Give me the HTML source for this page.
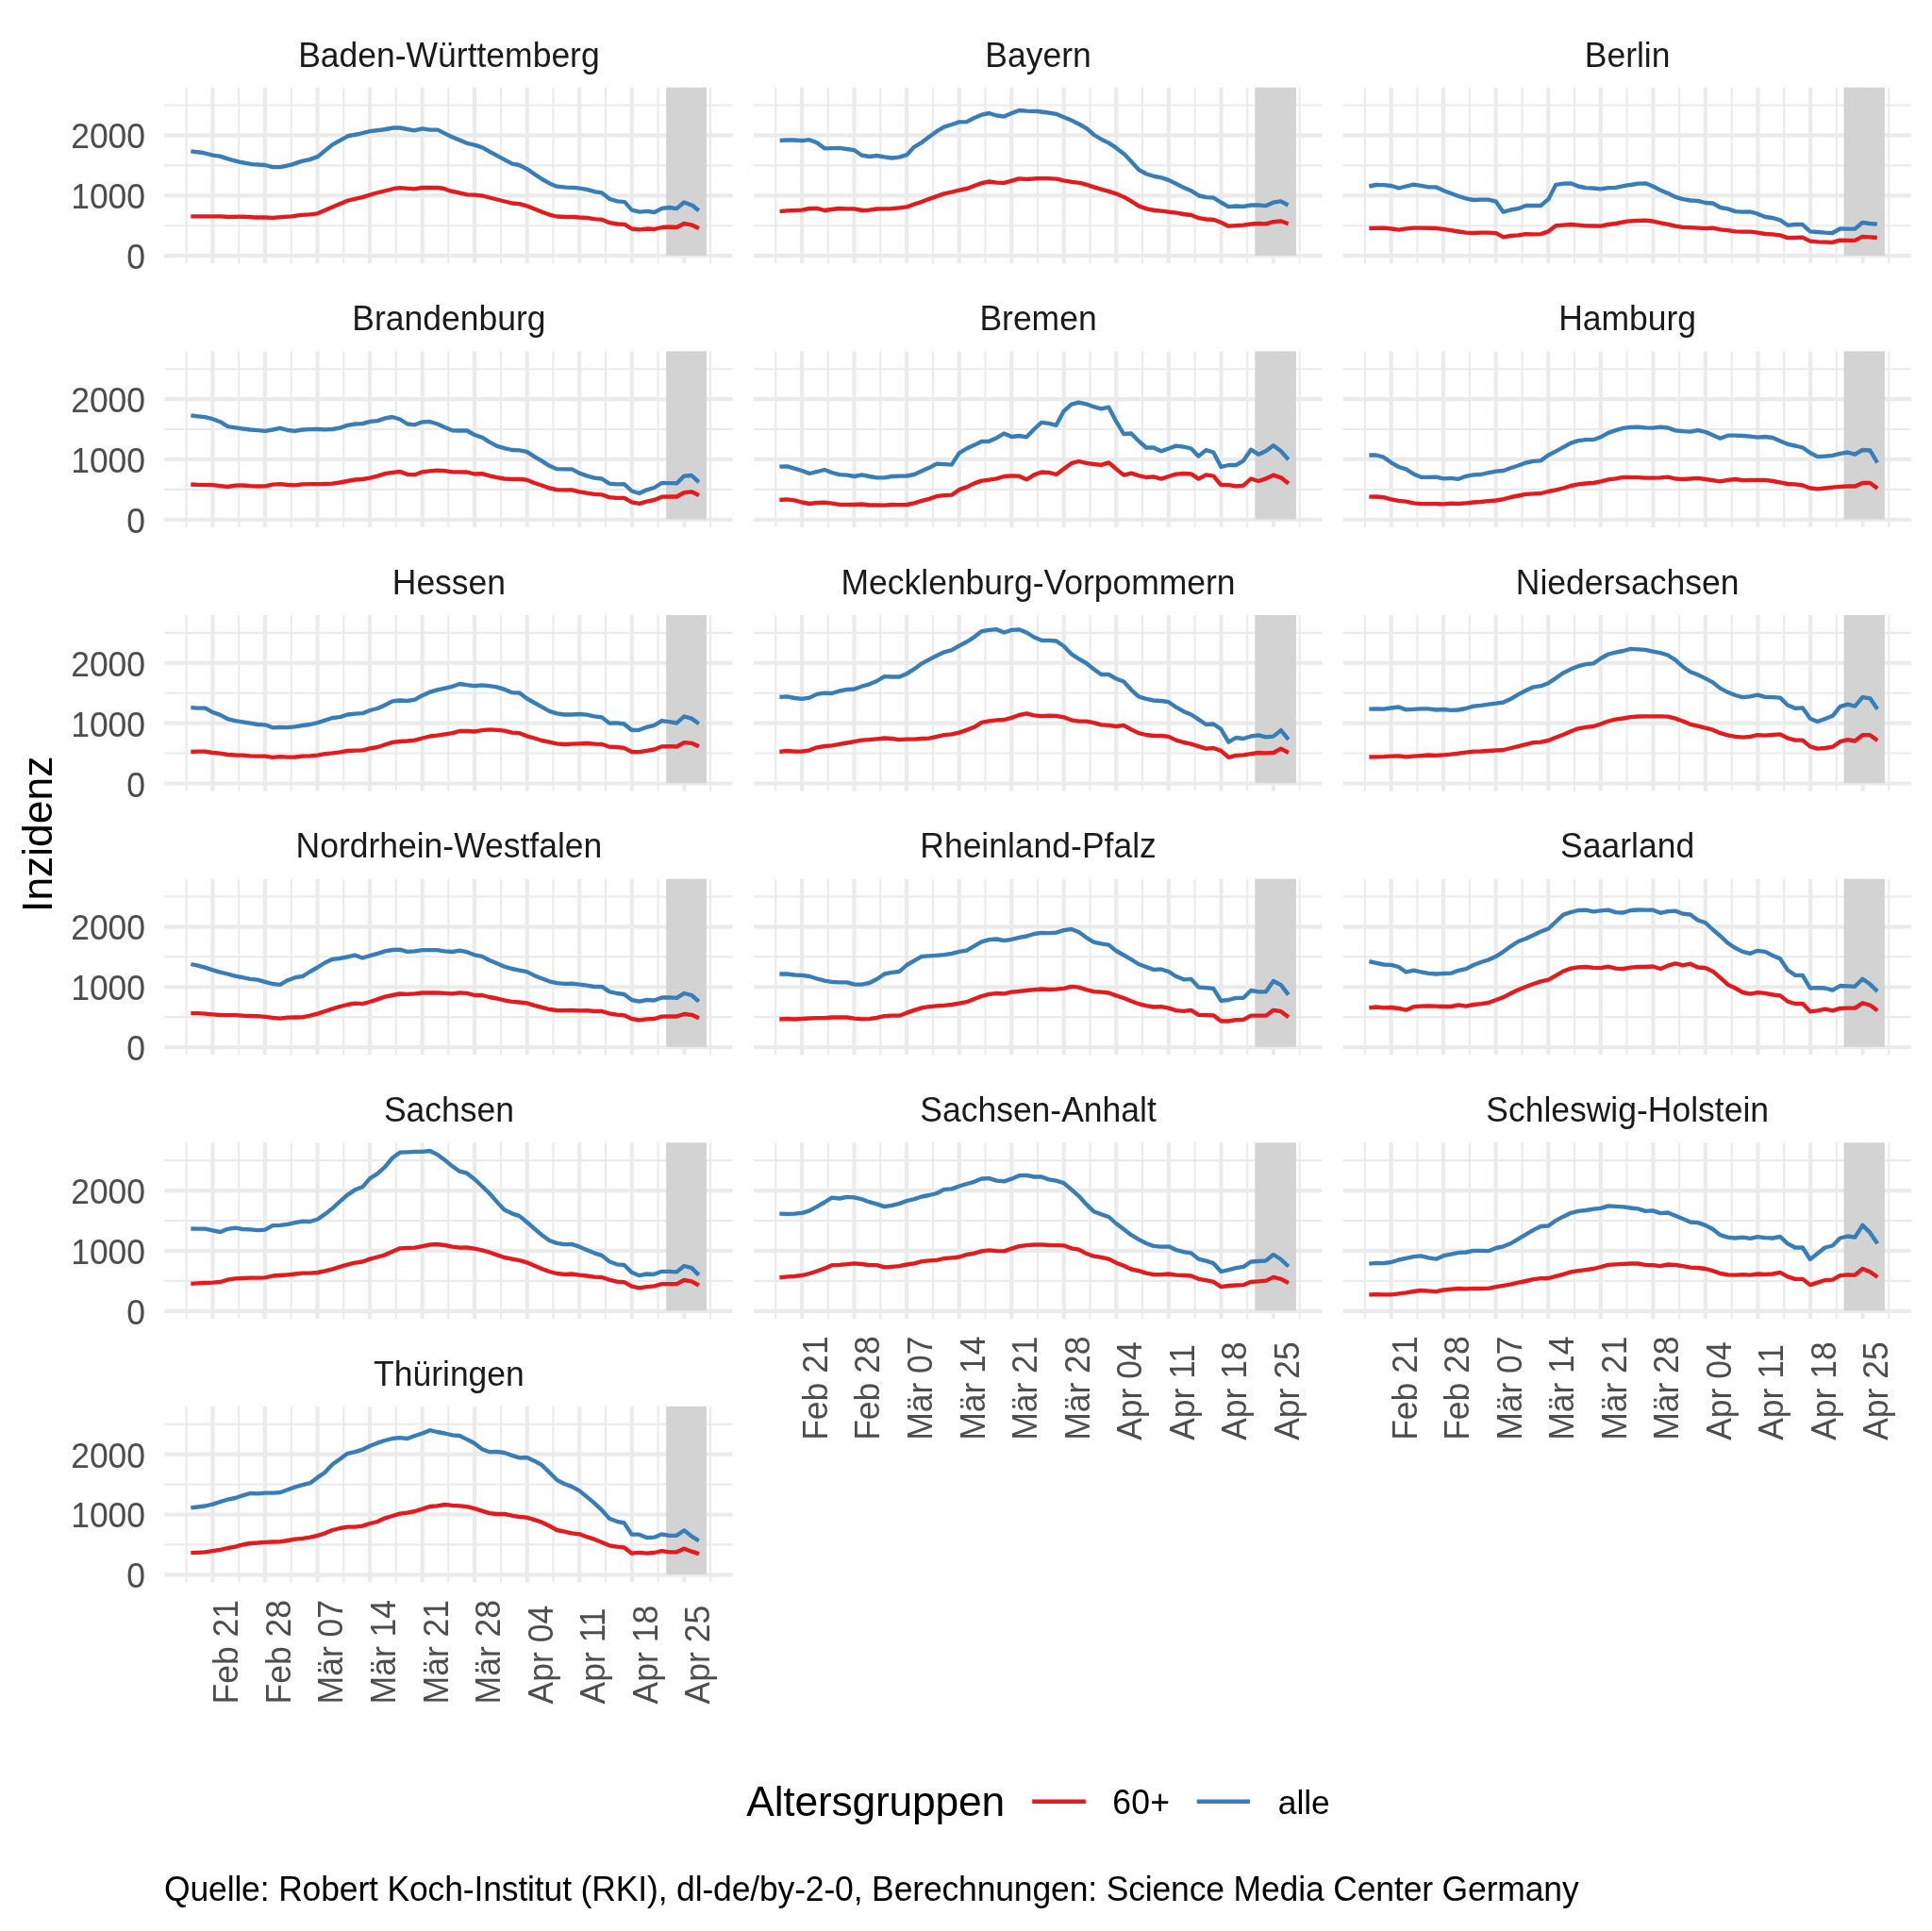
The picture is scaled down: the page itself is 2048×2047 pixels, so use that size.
<!DOCTYPE html>
<html><head><meta charset="utf-8"><title>Inzidenz</title>
<style>html,body{margin:0;padding:0;background:#fff}svg{display:block;will-change:transform}</style></head>
<body>
<svg width="2048" height="2047" viewBox="0 0 2048 2047" font-family="Liberation Sans, sans-serif">
<rect width="2048" height="2047" fill="#fff"/>
<defs><g id="pg"><path d="M0 146.51H602.25" stroke="#EBEBEB" stroke-width="2.1"/><path d="M0 82.64H602.25" stroke="#EBEBEB" stroke-width="2.1"/><path d="M0 18.78H602.25" stroke="#EBEBEB" stroke-width="2.1"/><path d="M23.23 0V186.6" stroke="#EBEBEB" stroke-width="2.1"/><path d="M78.78 0V186.6" stroke="#EBEBEB" stroke-width="2.1"/><path d="M134.32 0V186.6" stroke="#EBEBEB" stroke-width="2.1"/><path d="M189.88 0V186.6" stroke="#EBEBEB" stroke-width="2.1"/><path d="M245.42 0V186.6" stroke="#EBEBEB" stroke-width="2.1"/><path d="M300.98 0V186.6" stroke="#EBEBEB" stroke-width="2.1"/><path d="M356.52 0V186.6" stroke="#EBEBEB" stroke-width="2.1"/><path d="M412.07 0V186.6" stroke="#EBEBEB" stroke-width="2.1"/><path d="M467.62 0V186.6" stroke="#EBEBEB" stroke-width="2.1"/><path d="M523.17 0V186.6" stroke="#EBEBEB" stroke-width="2.1"/><path d="M578.73 0V186.6" stroke="#EBEBEB" stroke-width="2.1"/><path d="M0 178.45H602.25" stroke="#EBEBEB" stroke-width="4.2"/><path d="M0 114.58H602.25" stroke="#EBEBEB" stroke-width="4.2"/><path d="M0 50.71H602.25" stroke="#EBEBEB" stroke-width="4.2"/><path d="M51 0V186.6" stroke="#EBEBEB" stroke-width="4.2"/><path d="M106.55 0V186.6" stroke="#EBEBEB" stroke-width="4.2"/><path d="M162.1 0V186.6" stroke="#EBEBEB" stroke-width="4.2"/><path d="M217.65 0V186.6" stroke="#EBEBEB" stroke-width="4.2"/><path d="M273.2 0V186.6" stroke="#EBEBEB" stroke-width="4.2"/><path d="M328.75 0V186.6" stroke="#EBEBEB" stroke-width="4.2"/><path d="M384.3 0V186.6" stroke="#EBEBEB" stroke-width="4.2"/><path d="M439.85 0V186.6" stroke="#EBEBEB" stroke-width="4.2"/><path d="M495.4 0V186.6" stroke="#EBEBEB" stroke-width="4.2"/><path d="M550.95 0V186.6" stroke="#EBEBEB" stroke-width="4.2"/></g>
<g id="xl" font-size="35.5" fill="#4D4D4D"><text transform="translate(77.9 128.9) rotate(-90) scale(1 1.03)">Feb 21</text><text transform="translate(133.45 128.9) rotate(-90) scale(1 1.03)">Feb 28</text><text transform="translate(189 128.9) rotate(-90) scale(1 1.03)">Mär 07</text><text transform="translate(244.55 128.9) rotate(-90) scale(1 1.03)">Mär 14</text><text transform="translate(300.1 128.9) rotate(-90) scale(1 1.03)">Mär 21</text><text transform="translate(355.65 128.9) rotate(-90) scale(1 1.03)">Mär 28</text><text transform="translate(411.2 128.9) rotate(-90) scale(1 1.03)">Apr 04</text><text transform="translate(466.75 128.9) rotate(-90) scale(1 1.03)">Apr 11</text><text transform="translate(522.3 128.9) rotate(-90) scale(1 1.03)">Apr 18</text><text transform="translate(577.85 128.9) rotate(-90) scale(1 1.03)">Apr 25</text></g>
<g id="yl" font-size="35.5" fill="#4D4D4D"><text transform="translate(-20.3 192.45) scale(1 1.045)" text-anchor="end">0</text><text transform="translate(-20.3 128.58) scale(1 1.045)" text-anchor="end">1000</text><text transform="translate(-20.3 64.71) scale(1 1.045)" text-anchor="end">2000</text></g>
</defs>
<g transform="translate(174.4 92.75)">
<use href="#pg"/>
<rect x="531.8" y="0" width="42.7" height="178.15" fill="#D3D3D3"/>
<text transform="translate(301.52 -22.25) scale(1 1.015)" font-size="35.5" fill="#1A1A1A" text-anchor="middle">Baden-Württemberg</text>
<use href="#yl"/>
</g>
<path d="M202.33 160.33L215.67 162L225.67 164.67L233.17 165.67L242.33 168.67L253.5 171.67L267.33 174.17L281.17 175L289 177.17L297.33 177.17L308.83 174.67L319.83 170.83L328.17 169.17L336.67 166.17L352.33 153.33L364.5 146.67L369 144.17L380.67 142L392.17 139.17L405.67 137.5L417.33 135.5L424 135.5L439 138.33L447.67 136.33L455.67 137.67L464 137.67L475.33 143.33L478.83 145L495.5 152L503 153.67L511.33 156.33L519.67 161.17L530.83 167.17L543 173.67L550.5 175L558.5 179.17L574.67 190L583 194.67L590.5 197.67L599.67 198.67L608 198.83L614.17 199.67L622.17 200.83L631.33 203.33L638 204.33L646.33 211L654.67 213.33L662.17 214.17L669.67 222.67L678 224.67L686.33 223.83L693.83 225L701.83 220.83L709.67 220L717.17 221.17L725.17 214.5L733.83 217.83L740.83 223.33" fill="none" stroke="#377EB8" stroke-width="4.35" stroke-linejoin="round" stroke-linecap="butt"/>
<path d="M202.33 229.33L234 229.33L242.33 230L257.33 229.67L270.67 230.5L281.17 230.5L289 230.83L308.83 229.33L319.83 227.83L328.17 227.33L336.67 226.33L352.33 219.5L369 212.5L384 209.17L397.33 205L417.33 200L424 199.17L439 200.33L447.67 199L464 199L470.67 200L477.33 202.5L478.83 202.67L495.5 206.33L503 206.67L511.33 207.5L530.83 212.5L543 215.5L550.5 216.17L558.5 218.33L574.67 224.67L583 227.83L590.5 229.5L599.67 230L608 230L614.17 230.5L622.17 230.83L631.33 232.33L638 232.67L646.33 236.17L654.67 237.5L662.17 237.83L669.67 242.5L678 243.33L686.33 242.5L693.83 242.83L701.83 241L709.67 240.5L717.17 241L725.17 237L733.83 238.67L740.83 242" fill="none" stroke="#E41A1C" stroke-width="4.35" stroke-linejoin="round" stroke-linecap="butt"/>
<g transform="translate(799 92.75)">
<use href="#pg"/>
<rect x="531.3" y="0" width="43.6" height="178.15" fill="#D3D3D3"/>
<text transform="translate(301.52 -22.25) scale(1 1.015)" font-size="35.5" fill="#1A1A1A" text-anchor="middle">Bayern</text>
</g>
<path d="M826.67 149L834 148.33L842.33 148.5L850.17 149.17L858.17 148.17L866 151.17L874 157.33L881.5 157.17L889.83 156.83L897.33 158L905.67 159.17L913.67 164.67L921.5 166L929.5 165L937.33 166.33L945.33 167.5L953.17 166.67L961.17 164.17L969 155.83L977.33 150.83L985 145L993 139.17L1000.67 134.67L1009 132L1016.67 129.33L1024.83 129.17L1032.67 125L1040.67 121.67L1048.5 120L1056.5 122.5L1064.33 123.5L1072.33 120L1080.33 117L1088.17 117.67L1100 118L1111.33 119.5L1119.67 120.83L1127.67 124.17L1136.33 127.83L1144.67 132L1152.17 136.33L1159.67 143L1168 148L1175.5 151.67L1183 156.67L1192.17 163.67L1199.67 171.67L1207.17 180L1215.5 184.5L1223.83 187L1231.33 188.33L1238.67 190.83L1247.17 195L1254.67 198.83L1262.67 202.17L1271 207.5L1278.83 209.17L1286.33 209.67L1294.17 214.5L1302.17 219.17L1310.5 218.5L1318 218.83L1326.33 217.5L1333.83 217.33L1341.67 218.17L1349.67 214.67L1357.67 213.33L1365.5 217.5" fill="none" stroke="#377EB8" stroke-width="4.35" stroke-linejoin="round" stroke-linecap="butt"/>
<path d="M826.67 224.17L834 223.33L850.17 222.67L858.17 221L866 220.83L874 223L881.5 222L889.83 221L897.33 221.33L905.67 221.33L913.67 223L921.5 222.67L929.5 221.5L945.33 221.17L953.17 220.33L961.17 219.33L969 216.5L977.33 213.83L985 210.83L1000.67 205.33L1009 203.5L1016.67 201.67L1024.83 200L1032.67 197L1040.67 194.17L1048.5 192.5L1056.5 193.67L1064.33 193.83L1072.33 191.67L1080.33 189.33L1088.17 190L1100 189.17L1111.33 189.17L1119.67 189.67L1127.67 191.33L1136.33 192.83L1144.67 193.83L1152.17 195.83L1159.67 198.33L1168 200.83L1175.5 202.83L1183 205.33L1192.17 209.17L1199.67 213.67L1207.17 218.33L1215.5 221.33L1223.83 223L1231.33 223.67L1238.67 224.67L1247.17 225.67L1254.67 227L1262.67 228L1271 231.17L1278.83 232.5L1286.33 232.83L1294.17 235.83L1302.17 239.67L1310.5 239.17L1318 238.67L1326.33 237.5L1333.83 237L1341.67 237.33L1349.67 235.17L1357.67 234.33L1365.5 237.17" fill="none" stroke="#E41A1C" stroke-width="4.35" stroke-linejoin="round" stroke-linecap="butt"/>
<g transform="translate(1423.6 92.75)">
<use href="#pg"/>
<rect x="530.9" y="0" width="43.4" height="178.15" fill="#D3D3D3"/>
<text transform="translate(301.52 -22.25) scale(1 1.015)" font-size="35.5" fill="#1A1A1A" text-anchor="middle">Berlin</text>
</g>
<path d="M1451.33 197.5L1458.83 196L1467.17 196.17L1475 197L1483 199.5L1490.5 197.5L1498.5 195.67L1506.33 196.83L1514.33 198.33L1522.17 198.33L1530.17 202L1538 205L1546.33 208L1553.83 210.33L1561.83 212L1569.67 211.67L1577.67 211.67L1585.83 213.67L1593.5 224.67L1601.33 222.5L1609.33 221.17L1617.33 218L1625.5 218L1633.33 218L1641.33 211.17L1649.33 195.83L1657.17 194.67L1665.17 194.33L1673 197.5L1681 199.17L1688.83 199.5L1696.83 200.33L1704.67 199.17L1712.67 198.83L1724.67 196.33L1728.67 196L1736.17 194.67L1744.5 194.33L1752.17 197.5L1760.33 201.67L1768.33 205L1776.17 208.83L1784 211.17L1792 212.5L1799.83 212.83L1807.67 215L1815.67 215.5L1823.67 220L1831.5 221.33L1839.5 224.17L1847.5 224.67L1855.33 224.5L1863.17 226.67L1871.17 230L1879.17 231L1887 233.33L1895 238.83L1902.83 238L1910.67 238L1918.83 245.33L1926.67 246L1934.67 246.67L1942.5 247L1950.5 242.5L1958.33 242.67L1966.33 242.67L1974.17 236L1982 237L1989.83 237.67" fill="none" stroke="#377EB8" stroke-width="4.35" stroke-linejoin="round" stroke-linecap="butt"/>
<path d="M1451.33 242L1467.17 241.67L1475 242.5L1483 243.67L1490.5 242.33L1498.5 241.67L1506.33 241.67L1522.17 242L1530.17 242.83L1538 244.17L1546.33 245.5L1553.83 246.67L1561.83 247L1569.67 246.67L1577.67 246.67L1585.83 247.17L1593.5 251.33L1601.33 250L1609.33 249.33L1617.33 248.17L1625.5 248.33L1633.33 248.17L1641.33 245.33L1649.33 239.17L1657.17 238.67L1665.17 238L1673 238.67L1681 239.33L1688.83 239.5L1696.83 239.67L1704.67 238L1712.67 237L1724.67 234.67L1728.67 234.33L1736.17 233.83L1744.5 233.67L1752.17 234.5L1760.33 236.33L1768.33 237.83L1776.17 239.67L1784 240.83L1792 241.17L1799.83 241.67L1807.67 242.17L1815.67 241.67L1823.67 243.33L1831.5 244.17L1839.5 245.33L1847.5 245.67L1855.33 245.67L1863.17 246.67L1871.17 248L1879.17 248.33L1887 249.33L1895 252.17L1902.83 252L1910.67 251.67L1918.83 255.67L1926.67 256.33L1934.67 256.67L1942.5 256.83L1950.5 254.67L1958.33 254.83L1966.33 254.83L1974.17 250.83L1982 251.33L1989.83 252" fill="none" stroke="#E41A1C" stroke-width="4.35" stroke-linejoin="round" stroke-linecap="butt"/>
<g transform="translate(174.4 372.4)">
<use href="#pg"/>
<rect x="531.8" y="0" width="42.7" height="178.15" fill="#D3D3D3"/>
<text transform="translate(301.52 -22.25) scale(1 1.015)" font-size="35.5" fill="#1A1A1A" text-anchor="middle">Brandenburg</text>
<use href="#yl"/>
</g>
<path d="M202.33 440.33L209.83 441.33L217.33 442.17L225.5 444.17L233.5 447.17L241.5 452.17L249.5 453.33L257.33 454.5L265.33 455.5L273.17 456.17L281.17 456.83L289 455.5L297 453.83L304.83 456L312.83 456.83L320.67 455.5L328.67 455.17L336.67 455L344.5 455.33L352.33 455L360.33 453.67L368.33 450.83L376.33 449.5L384.33 449.17L392.17 446.83L400.17 446.17L408.17 443.33L416 442L424 444.5L432 449.5L439.83 450.33L447.67 447.33L455.67 447L463.67 449.5L471.5 453L479.5 456.33L487.17 456.5L495 456.5L503 461L511 463.67L518.83 468.67L526.83 472.83L534.67 475.17L542.67 477L550.67 477.33L558.5 478.83L566.5 484.17L574.33 488.67L582.33 493.83L590.33 497.17L598.17 497.33L606.17 497.33L614.17 501.67L622 504.33L630 506.67L638 507.5L645.83 512.67L653.83 513.33L661.67 513.17L669.67 520.5L677.67 523L685.5 519.33L693.5 517L701.5 512L709.33 512.17L717.33 512.33L725.17 504.67L733.17 504L740.83 511.17" fill="none" stroke="#377EB8" stroke-width="4.35" stroke-linejoin="round" stroke-linecap="butt"/>
<path d="M202.33 513.5L209.83 513.83L225.5 514.17L233.5 515.17L241.5 516L249.5 514.67L257.33 514.5L265.33 515.17L273.17 515.5L281.17 515.33L289 513.67L297 513.17L304.83 514L312.83 514.33L320.67 513.33L328.67 513.17L336.67 513.17L344.5 513L352.33 512.67L360.33 511.5L368.33 510L376.33 508.5L384.33 508L392.17 506.67L400.17 504.67L408.17 502.17L416 500.83L424 500L432 502.83L439.83 503.17L447.67 500.33L455.67 499.33L463.67 498.67L471.5 499.17L479.5 500.33L487.17 500.33L495 500.5L503 502.5L511 502.17L518.83 504.33L526.83 506.17L534.67 507.5L542.67 508L550.67 508L558.5 508.67L566.5 512L574.33 514.5L582.33 517.5L590.33 519.17L598.17 519.33L606.17 519.33L614.17 521.33L622 522.67L630 523.83L638 524.33L645.83 527.17L653.83 527.83L661.67 527.83L669.67 532.33L677.67 533.83L685.5 531.67L693.5 530L701.5 526.67L709.33 526.33L717.33 526.5L725.17 522.17L733.17 521.33L740.83 525" fill="none" stroke="#E41A1C" stroke-width="4.35" stroke-linejoin="round" stroke-linecap="butt"/>
<g transform="translate(799 372.4)">
<use href="#pg"/>
<rect x="531.3" y="0" width="43.6" height="178.15" fill="#D3D3D3"/>
<text transform="translate(301.52 -22.25) scale(1 1.015)" font-size="35.5" fill="#1A1A1A" text-anchor="middle">Bremen</text>
</g>
<path d="M826.33 494.67L834.33 494.33L842.17 496.67L850.17 499L858.17 502L866 500L874 498L881.83 501L889.83 503.17L897.83 503.67L905.67 505L913.67 503.33L921.5 505L929.5 506.33L937.5 506.33L945.33 505L953.33 504.67L961.17 504.5L969.17 503L977.17 499.33L985 495.83L993 491.67L1000.83 492.17L1008.83 492.67L1016.67 480.33L1024.67 475.5L1032.67 471.83L1040.5 468L1048.5 467.83L1056.5 464.17L1064.33 459.5L1072.33 463L1080.33 462L1088.17 463.33L1096.17 455L1104 447.83L1111.83 448.83L1119.67 450.83L1127.67 435.83L1135.67 428.67L1143.5 426.67L1151.5 428.33L1159.33 431.17L1167.33 433.33L1175.33 431.67L1183.17 446.67L1191.17 460L1199.17 459.5L1207 467.5L1215 474.5L1222.83 474.5L1230.83 478.33L1238.83 475.5L1246.67 472.67L1254.67 473.67L1262.67 475.5L1270.5 483.67L1278.5 477.17L1286.33 479.5L1294.33 495L1302.33 493L1310.17 493L1318.17 488.33L1326 476.67L1334 481.67L1342 478L1349.83 472.17L1357.83 478.33L1365.83 487.17" fill="none" stroke="#377EB8" stroke-width="4.35" stroke-linejoin="round" stroke-linecap="butt"/>
<path d="M826.33 530L834.33 529.33L842.17 530.33L850.17 532.5L858.17 534L866 533L874 532.67L881.83 533.67L889.83 534.83L897.83 534.83L905.67 535L913.67 534.5L921.5 535.5L929.5 535.5L937.5 535.67L945.33 535L953.33 535.17L961.17 535L969.17 533.33L977.17 530.83L985 528.83L993 526L1000.83 525.17L1008.83 524.67L1016.67 519.17L1024.67 516.33L1032.67 512.33L1040.5 509.67L1048.5 508.67L1056.5 507.33L1064.33 505L1072.33 504.33L1080.33 504.67L1088.17 508.33L1096.17 503.33L1104 500.5L1111.83 500.83L1119.67 503L1127.67 497L1135.67 491.17L1143.5 489L1151.5 490.83L1159.33 492L1167.33 492.83L1175.33 490.33L1183.17 497.17L1191.17 503.67L1199.17 501.67L1207 504.17L1215 506L1222.83 505.33L1230.83 507.67L1238.83 505L1246.67 502.67L1254.67 502L1262.67 502.33L1270.5 507.67L1278.5 503.33L1286.33 504.67L1294.33 514.17L1302.33 514.17L1310.17 515.33L1318.17 514.67L1326 507.5L1334 510L1342 507.33L1349.83 503.67L1357.83 506.33L1365.83 512.5" fill="none" stroke="#E41A1C" stroke-width="4.35" stroke-linejoin="round" stroke-linecap="butt"/>
<g transform="translate(1423.6 372.4)">
<use href="#pg"/>
<rect x="530.9" y="0" width="43.4" height="178.15" fill="#D3D3D3"/>
<text transform="translate(301.52 -22.25) scale(1 1.015)" font-size="35.5" fill="#1A1A1A" text-anchor="middle">Hamburg</text>
</g>
<path d="M1451.33 482.5L1458.83 482.5L1466.67 484.67L1474.67 490.33L1482.67 495L1490.5 497.33L1498.5 502.5L1506.33 505.83L1514.33 505.83L1522.33 505.67L1530.17 507.33L1538.17 506.83L1546 507.83L1554 504.83L1562 503.33L1569.83 503L1577.83 501.17L1585.83 499.67L1593.67 499L1601.67 496L1609.5 493.5L1617.5 490.5L1625.5 488.83L1633.33 488.33L1641.33 482.5L1649.33 478.33L1657.17 474.17L1665.17 469.67L1673 467.17L1681 466.17L1689 466.17L1696.83 463.33L1704.83 458.83L1712.67 456.17L1720.67 453.83L1728.67 452.83L1736.33 452.67L1744.17 453.33L1752.17 453.67L1760.17 452.67L1768 453.5L1776 456.33L1783.83 457.17L1791.83 457.67L1799.83 456.17L1807.67 457.83L1815.67 461.33L1823.5 464.67L1831.5 461.67L1839.5 461.67L1847.33 462L1855.33 462.67L1863.17 463.67L1871.17 463L1879.17 464L1887 467.5L1895 470.83L1902.83 472.5L1910.83 474.5L1918.83 480L1926.67 484.17L1934.67 483.67L1942.67 482.83L1950.5 480.83L1958.5 479.5L1966.33 481.67L1974.33 477L1982.33 477.5L1990.17 490.5" fill="none" stroke="#377EB8" stroke-width="4.35" stroke-linejoin="round" stroke-linecap="butt"/>
<path d="M1451.33 526.67L1458.83 526.5L1466.67 527.17L1474.67 529.33L1482.67 530.83L1490.5 531.67L1498.5 533.33L1506.33 534.17L1522.33 534.17L1530.17 534.33L1538.17 533.67L1546 534L1554 533.33L1562 532.5L1569.83 532L1577.83 531.17L1585.83 530.5L1593.67 529.17L1601.67 527L1609.5 525.5L1617.5 523.83L1625.5 523.33L1633.33 523L1641.33 521L1649.33 519.33L1657.17 517.5L1665.17 515L1673 513.33L1681 512.5L1689 512L1696.83 510.33L1704.83 508.33L1712.67 507.33L1720.67 505.83L1728.67 506.17L1736.33 506.17L1744.17 506.67L1752.17 506.67L1760.17 506.33L1768 505.67L1776 507.5L1783.83 508L1791.83 507.5L1799.83 506.83L1807.67 508L1815.67 509.17L1823.5 510.33L1831.5 508.83L1839.5 508L1847.33 509.17L1855.33 508.83L1863.17 508.83L1871.17 508.83L1879.17 510L1887 511.33L1895 513L1902.83 513.33L1910.83 514.5L1918.83 517.5L1926.67 518.33L1934.67 517.5L1942.67 516.67L1950.5 515.83L1958.5 515.5L1966.33 515.5L1974.33 512L1982.33 512L1990.17 517.83" fill="none" stroke="#E41A1C" stroke-width="4.35" stroke-linejoin="round" stroke-linecap="butt"/>
<g transform="translate(174.4 652.05)">
<use href="#pg"/>
<rect x="531.8" y="0" width="42.7" height="178.15" fill="#D3D3D3"/>
<text transform="translate(301.52 -22.25) scale(1 1.015)" font-size="35.5" fill="#1A1A1A" text-anchor="middle">Hessen</text>
<use href="#yl"/>
</g>
<path d="M202.33 750.17L209.67 750.67L217.5 750.67L225.5 755.17L233.5 757.83L241.33 762.17L249.33 764.17L257.17 765.33L265.17 766.67L273.17 768L281 768.33L289 771.33L296.83 771L304.83 771.17L312.83 770.33L320.67 769L328.67 768L336.67 766.17L344.5 763.67L352.5 761L360.33 760.17L368.33 757.5L376.33 756.67L384.17 756.17L392.17 753L400.17 751L408 747.5L416 743.33L423.83 742.5L431.83 743L439.83 741.67L447.67 737.17L455.67 733.67L463.5 731.33L471.5 729.67L479.5 727.83L487.17 725L495 726.17L503 727.17L511 726.33L518.83 727.17L526.83 728.33L534.67 730.83L542.67 734.17L550.67 734.5L558.5 740.5L566.5 745L574.33 749.33L582.33 753.83L590.33 756.33L598.17 757.5L606.17 757.5L614.17 757L622 757.67L630 759.33L638 760.33L645.83 766.67L653.83 766.33L661.67 767.5L669.67 774L677.67 773.83L685.5 770.83L693.5 768.83L701.5 764.17L709.33 765.17L717.33 766.5L725.17 759.5L733.17 761.67L740.83 767.17" fill="none" stroke="#377EB8" stroke-width="4.35" stroke-linejoin="round" stroke-linecap="butt"/>
<path d="M202.33 796.83L209.67 796.67L217.5 796.67L225.5 798L233.5 798.67L241.33 800L249.33 800.5L257.17 800.67L265.17 801.33L273.17 801.67L281 801.67L289 802.83L296.83 802.17L304.83 802.67L312.83 802.5L320.67 801.67L328.67 801.33L336.67 800.67L344.5 799.17L352.5 798.33L360.33 797.33L368.33 796L376.33 795.67L384.17 795.33L392.17 793.33L400.17 792L408 789.5L416 786.83L423.83 786L431.83 785.5L439.83 784.67L447.67 782.5L455.67 780.5L463.5 779.67L471.5 778.33L479.5 777.17L487.17 775L495 775L503 775.5L511 774.17L518.83 773.33L526.83 773.83L534.67 774.67L542.67 776.67L550.67 777.17L558.5 780.33L566.5 782.5L574.33 785L582.33 786.67L590.33 788.33L598.17 789L606.17 788.67L614.17 788.33L622 788L630 788.67L638 788.83L645.83 791.67L653.83 792L661.67 792.83L669.67 797L677.67 797.17L685.5 795.83L693.5 794.5L701.5 791.33L709.33 791.17L717.33 791.5L725.17 787.17L733.17 787.83L740.83 791.17" fill="none" stroke="#E41A1C" stroke-width="4.35" stroke-linejoin="round" stroke-linecap="butt"/>
<g transform="translate(799 652.05)">
<use href="#pg"/>
<rect x="531.3" y="0" width="43.6" height="178.15" fill="#D3D3D3"/>
<text transform="translate(301.52 -22.25) scale(1 1.015)" font-size="35.5" fill="#1A1A1A" text-anchor="middle">Mecklenburg-Vorpommern</text>
</g>
<path d="M826.33 738.83L834.33 738.33L842.17 740L850.17 740.83L858.17 739.67L866 735.83L874 734.67L881.83 735L889.83 732.5L897.83 730.83L905.67 730.5L913.67 727.5L921.5 725.33L929.5 722L937.5 717.17L945.33 717.5L953.33 717.5L961.17 714.17L969.17 709.17L977.17 703.33L985 699.17L993 695L1000.83 691.33L1008.83 689.17L1016.67 684.67L1024.67 680.5L1032.67 675.33L1040.5 669.17L1048.5 667.83L1056.5 667.17L1064.33 670.5L1072.33 667.83L1080.33 667.33L1088.17 670.5L1096.17 675.5L1104 678.83L1111.83 678.83L1119.67 679.5L1127.67 685L1135.67 693.33L1143.5 698.33L1151.5 703L1159.33 709.17L1167.33 715L1175.33 715L1183.17 719.5L1191.17 722.5L1199.17 731.33L1207 738.33L1215 740.83L1222.83 742.5L1230.83 743L1238.83 744.17L1246.67 749.67L1254.67 754.17L1262.67 757.5L1270.5 762.67L1278.5 768L1286.33 767.5L1294.33 773L1302.33 786.67L1310.17 782L1318.17 783L1326 780.5L1334 779.33L1342 781.33L1349.83 780.67L1357.83 774.17L1365.83 783.83" fill="none" stroke="#377EB8" stroke-width="4.35" stroke-linejoin="round" stroke-linecap="butt"/>
<path d="M826.33 796.83L834.33 796L842.17 796.67L850.17 796.67L858.17 795.33L866 792.33L874 791L881.83 790.33L889.83 788.83L897.83 787.5L905.67 786.17L913.67 784.67L921.5 784.17L929.5 783.33L937.5 782.5L945.33 783L953.33 784.17L961.17 783.67L969.17 783.67L977.17 783L985 782.67L993 780.83L1000.83 779.17L1008.83 778.33L1016.67 776.67L1024.67 773.83L1032.67 770.83L1040.5 765.83L1048.5 764.33L1056.5 763.33L1064.33 763L1072.33 760.83L1080.33 758L1088.17 756.33L1096.17 758.33L1104 759.17L1111.83 758.67L1119.67 758.83L1127.67 760.33L1135.67 763.33L1143.5 764.67L1151.5 764.67L1159.33 766.17L1167.33 768.33L1175.33 768.83L1183.17 770L1191.17 768.83L1199.17 773.33L1207 777.17L1215 779L1222.83 780L1230.83 780L1238.83 780.83L1246.67 784.67L1254.67 787L1262.67 788.67L1270.5 791.17L1278.5 793.67L1286.33 793L1294.33 795.83L1302.33 802.83L1310.17 800.83L1318.17 800.33L1326 799.17L1334 798L1342 798.33L1349.83 798L1357.83 793.67L1365.83 798" fill="none" stroke="#E41A1C" stroke-width="4.35" stroke-linejoin="round" stroke-linecap="butt"/>
<g transform="translate(1423.6 652.05)">
<use href="#pg"/>
<rect x="530.9" y="0" width="43.4" height="178.15" fill="#D3D3D3"/>
<text transform="translate(301.52 -22.25) scale(1 1.015)" font-size="35.5" fill="#1A1A1A" text-anchor="middle">Niedersachsen</text>
</g>
<path d="M1451.33 751.67L1458.83 751.33L1466.67 751.67L1474.67 750.5L1482.67 749.5L1490.5 752.33L1498.5 751.83L1506.33 751.33L1514.33 751.33L1522.33 752.5L1530.17 752L1538.17 752.83L1546 752.5L1554 751L1562 748.67L1569.83 747.83L1577.83 746.67L1585.83 745.67L1593.67 744.5L1601.67 740.83L1609.5 736.17L1617.5 732L1625.5 728.33L1633.33 727.17L1641.33 724.17L1649.33 718.83L1657.17 713.33L1665.17 709.33L1673 706.17L1681 704.17L1689 703.33L1696.83 698L1704.83 693.5L1712.67 691.67L1720.67 690L1728.67 687.83L1736.33 688.33L1744.17 688.83L1752.17 690.67L1760.17 692.17L1768 694.5L1776 699.67L1783.83 706.67L1791.83 712.17L1799.83 715.33L1807.67 719.17L1815.67 723.33L1823.5 729.67L1831.5 733.83L1839.5 737L1847.33 739.17L1855.33 738.33L1863.17 736.67L1871.17 738.83L1879.17 739.17L1887 739.67L1895 747.5L1902.83 750.83L1910.83 750.33L1918.83 761.67L1926.67 765L1934.67 762L1942.67 758.83L1950.5 749.17L1958.5 746.67L1966.33 748.67L1974.33 739.17L1982.33 740.33L1990.17 751.67" fill="none" stroke="#377EB8" stroke-width="4.35" stroke-linejoin="round" stroke-linecap="butt"/>
<path d="M1451.33 802.5L1458.83 802.33L1466.67 802.17L1474.67 801.67L1482.67 801.33L1490.5 802.33L1498.5 801.67L1506.33 801.17L1514.33 800.5L1522.33 800.83L1530.17 800.33L1538.17 799.67L1546 798.67L1554 797.67L1562 796.67L1569.83 796.5L1577.83 796L1585.83 795.5L1593.67 795L1601.67 793L1609.5 791.17L1617.5 789.17L1625.5 787.17L1633.33 786.67L1641.33 785L1649.33 781.67L1657.17 778.67L1665.17 775.33L1673 772.33L1681 770.83L1689 770L1696.83 767.5L1704.83 764.5L1712.67 762.67L1720.67 761.5L1728.67 760.17L1736.33 759.5L1744.17 759.33L1752.17 759.33L1760.17 759.33L1768 759.67L1776 761.67L1783.83 764.5L1791.83 767.83L1799.83 769.67L1807.67 771.67L1815.67 773.67L1823.5 777.17L1831.5 779.33L1839.5 780.83L1847.33 781.67L1855.33 780.83L1863.17 779.17L1871.17 779.67L1879.17 779L1887 778.33L1895 782.5L1902.83 784.67L1910.83 784.67L1918.83 791.33L1926.67 793.67L1934.67 793L1942.67 791.67L1950.5 786.17L1958.5 784.17L1966.33 785.5L1974.33 779.17L1982.33 779.17L1990.17 785" fill="none" stroke="#E41A1C" stroke-width="4.35" stroke-linejoin="round" stroke-linecap="butt"/>
<g transform="translate(174.4 931.65)">
<use href="#pg"/>
<rect x="531.8" y="0" width="42.7" height="178.15" fill="#D3D3D3"/>
<text transform="translate(301.52 -22.25) scale(1 1.015)" font-size="35.5" fill="#1A1A1A" text-anchor="middle">Nordrhein-Westfalen</text>
<use href="#yl"/>
</g>
<path d="M202.33 1022L209.67 1023.67L217.5 1025.67L225.5 1028.33L233.5 1030.67L241.33 1032.5L249.33 1034.67L257.17 1036.17L265.17 1037.83L273.17 1038.67L281 1040.83L289 1043L296.83 1043.83L304.83 1039.17L312.83 1036.17L320.67 1035L328.67 1030L336.67 1025.5L344.5 1020.5L352.5 1016.83L360.33 1016L368.33 1014.33L376.33 1012.67L384.17 1015.5L392.17 1013.17L400.17 1010.83L408 1008.33L416 1007L423.83 1006.67L431.83 1008.83L439.83 1008.33L447.67 1007.17L455.67 1007.17L463.5 1007.17L471.5 1008.33L479.5 1009L487.17 1007.67L495 1009.17L503 1012.33L511 1013.83L518.83 1018L526.83 1021.33L534.67 1024.67L542.67 1027L550.67 1028.67L558.5 1030.17L566.5 1034.17L574.33 1037.17L582.33 1040.33L590.33 1042.17L598.17 1042.83L606.17 1042.67L614.17 1043.67L622 1044.67L630 1046L638 1045.83L645.83 1051.17L653.83 1053L661.67 1054L669.67 1060L677.67 1061.67L685.5 1060L693.5 1060.5L701.5 1057.5L709.33 1057.33L717.33 1057.83L725.17 1053L733.17 1055L740.83 1061.67" fill="none" stroke="#377EB8" stroke-width="4.35" stroke-linejoin="round" stroke-linecap="butt"/>
<path d="M202.33 1074.17L209.67 1074.17L217.5 1074.67L225.5 1075.33L233.5 1076L241.33 1076.17L249.33 1076.17L257.17 1076.67L265.17 1077L273.17 1077.17L281 1077.83L289 1078.83L296.83 1079.67L304.83 1078.67L312.83 1078.5L320.67 1078.33L328.67 1076.67L336.67 1074.67L344.5 1072L352.5 1069.33L360.33 1067L368.33 1065L376.33 1063.67L384.17 1064.17L392.17 1062L400.17 1059.33L408 1056.67L416 1055L423.83 1053.5L431.83 1053.83L439.83 1053.33L447.67 1052.5L455.67 1052.5L463.5 1052.5L471.5 1052.83L479.5 1053.33L487.17 1052.33L495 1052.83L503 1055L511 1055L518.83 1057L526.83 1058.5L534.67 1060.33L542.67 1061.83L550.67 1062.5L558.5 1063.33L566.5 1065.83L574.33 1067.83L582.33 1070L590.33 1071L598.17 1071.17L606.17 1071L614.17 1071.33L622 1071.17L630 1072L638 1072L645.83 1074.33L653.83 1075.67L661.67 1076.33L669.67 1080L677.67 1081.33L685.5 1080.33L693.5 1080L701.5 1077.67L709.33 1077.33L717.33 1077.5L725.17 1075L733.17 1075.83L740.83 1079.33" fill="none" stroke="#E41A1C" stroke-width="4.35" stroke-linejoin="round" stroke-linecap="butt"/>
<g transform="translate(799 931.65)">
<use href="#pg"/>
<rect x="531.3" y="0" width="43.6" height="178.15" fill="#D3D3D3"/>
<text transform="translate(301.52 -22.25) scale(1 1.015)" font-size="35.5" fill="#1A1A1A" text-anchor="middle">Rheinland-Pfalz</text>
</g>
<path d="M826.33 1032.5L834.33 1032.5L842.17 1033.5L850.17 1033.83L858.17 1035L866 1037.5L874 1039.67L881.83 1040.83L889.83 1041.33L897.83 1041.33L905.67 1043.67L913.67 1043.67L921.5 1042L929.5 1038L937.5 1032.5L945.33 1030.83L953.33 1030L961.17 1023L969.17 1018.33L977.17 1013.83L985 1013.33L993 1012.83L1000.83 1012.17L1008.83 1010.83L1016.67 1008.83L1024.67 1007.67L1032.67 1002.83L1040.5 998.33L1048.5 996.17L1056.5 995.5L1064.33 997.17L1072.33 995.83L1080.33 993.83L1088.17 992.5L1096.17 990L1104 988.83L1111.83 989.17L1119.67 988.67L1127.67 986.17L1135.67 985L1143.5 988L1151.5 993.83L1159.33 998.67L1167.33 1000.33L1175.33 1001.67L1183.17 1008L1191.17 1012.5L1199.17 1017.17L1207 1022L1215 1025L1222.83 1027.83L1230.83 1027.5L1238.83 1030L1246.67 1035L1254.67 1038.33L1262.67 1037.83L1270.5 1046.67L1278.5 1047.17L1286.33 1048L1294.33 1060.83L1302.33 1060L1310.17 1057.83L1318.17 1057.83L1326 1050L1334 1051.33L1342 1051.33L1349.83 1040L1357.83 1044.17L1365.83 1054.67" fill="none" stroke="#377EB8" stroke-width="4.35" stroke-linejoin="round" stroke-linecap="butt"/>
<path d="M826.33 1080.5L834.33 1080L842.17 1080.5L850.17 1080L858.17 1079.5L866 1079.17L874 1079.17L881.83 1078.5L889.83 1078.5L897.83 1078.5L905.67 1079.67L913.67 1080.33L921.5 1080.17L929.5 1078.83L937.5 1077.17L945.33 1076.67L953.33 1076.67L961.17 1073.67L969.17 1070.83L977.17 1068.33L985 1067.17L993 1066.33L1000.83 1065.83L1008.83 1065L1016.67 1063.67L1024.67 1062.17L1032.67 1059L1040.5 1056L1048.5 1053.83L1056.5 1053L1064.33 1053.33L1072.33 1051.67L1080.33 1050.83L1088.17 1050L1096.17 1049.17L1104 1048.5L1111.83 1049L1119.67 1048.67L1127.67 1047.83L1135.67 1045.83L1143.5 1046.67L1151.5 1049.17L1159.33 1051.17L1167.33 1051.67L1175.33 1052.5L1183.17 1055.33L1191.17 1058L1199.17 1061.33L1207 1064.17L1215 1066.17L1222.83 1067.5L1230.83 1067.17L1238.83 1068.67L1246.67 1071.17L1254.67 1071.83L1262.67 1070.83L1270.5 1075.83L1278.5 1076.17L1286.33 1076.33L1294.33 1082.5L1302.33 1082.5L1310.17 1081.17L1318.17 1080.83L1326 1076.67L1334 1076.67L1342 1076.67L1349.83 1070.83L1357.83 1072.17L1365.83 1078.33" fill="none" stroke="#E41A1C" stroke-width="4.35" stroke-linejoin="round" stroke-linecap="butt"/>
<g transform="translate(1423.6 931.65)">
<use href="#pg"/>
<rect x="530.9" y="0" width="43.4" height="178.15" fill="#D3D3D3"/>
<text transform="translate(301.52 -22.25) scale(1 1.015)" font-size="35.5" fill="#1A1A1A" text-anchor="middle">Saarland</text>
</g>
<path d="M1451.33 1019.17L1458.83 1020.83L1466.67 1022.5L1474.67 1022.83L1482.67 1025L1490.5 1030.5L1498.5 1028.67L1506.33 1030.33L1514.33 1031.83L1522.33 1032.5L1530.17 1032L1538.17 1031.67L1546 1028.83L1554 1027.17L1562 1023L1569.83 1020L1577.83 1017.5L1585.83 1013.83L1593.67 1008.83L1601.67 1003L1609.5 998L1617.5 995L1625.5 991.17L1633.33 987.5L1641.33 984.5L1649.33 977L1657.17 969.67L1665.17 967L1673 965L1681 964.67L1689 966.33L1696.83 965.33L1704.83 964.67L1712.67 967.17L1720.67 967.5L1728.67 965L1736.33 964.5L1744.17 964.67L1752.17 964.67L1760.17 967.83L1768 966.17L1776 965.67L1783.83 968.67L1791.83 969.5L1799.83 975.5L1807.67 978L1815.67 985.5L1823.5 992.17L1831.5 999.67L1839.5 1005L1847.33 1008.83L1855.33 1010.83L1863.17 1007.83L1871.17 1008.83L1879.17 1013L1887 1016.33L1895 1028.33L1902.83 1033.83L1910.83 1033.83L1918.83 1047.5L1926.67 1047.17L1934.67 1047.5L1942.67 1049.67L1950.5 1045L1958.5 1045.33L1966.33 1045.83L1974.33 1037.83L1982.33 1043.33L1990.17 1050.83" fill="none" stroke="#377EB8" stroke-width="4.35" stroke-linejoin="round" stroke-linecap="butt"/>
<path d="M1451.33 1068.33L1458.83 1067.5L1466.67 1068.33L1474.67 1068L1482.67 1069L1490.5 1070.67L1498.5 1067.17L1506.33 1066.67L1514.33 1066.5L1522.33 1066.67L1530.17 1067L1538.17 1067L1546 1065.33L1554 1066.67L1562 1065L1569.83 1064.17L1577.83 1063L1585.83 1060L1593.67 1057.17L1601.67 1053L1609.5 1049.17L1617.5 1046L1625.5 1043L1633.33 1040.33L1641.33 1038.67L1649.33 1034.17L1657.17 1029.5L1665.17 1026.67L1673 1025.33L1681 1025L1689 1025.83L1696.83 1026.17L1704.83 1024.67L1712.67 1026.67L1720.67 1027L1728.67 1025.67L1736.33 1025L1744.17 1025L1752.17 1024.5L1760.17 1027L1768 1023.67L1776 1021.33L1783.83 1023.33L1791.83 1021.67L1799.83 1025.5L1807.67 1026L1815.67 1029.67L1823.5 1036.33L1831.5 1043.67L1839.5 1047.5L1847.33 1052L1855.33 1053.67L1863.17 1052.17L1871.17 1052.83L1879.17 1054.5L1887 1055.33L1895 1061.67L1902.83 1064L1910.83 1063.83L1918.83 1072.33L1926.67 1071.33L1934.67 1069.67L1942.67 1071.33L1950.5 1068.83L1958.5 1068.67L1966.33 1068.67L1974.33 1063.33L1982.33 1065.5L1990.17 1071.17" fill="none" stroke="#E41A1C" stroke-width="4.35" stroke-linejoin="round" stroke-linecap="butt"/>
<g transform="translate(174.4 1211.35)">
<use href="#pg"/>
<rect x="531.8" y="0" width="42.7" height="178.15" fill="#D3D3D3"/>
<text transform="translate(301.52 -22.25) scale(1 1.015)" font-size="35.5" fill="#1A1A1A" text-anchor="middle">Sachsen</text>
<use href="#yl"/>
</g>
<path d="M202.33 1302.5L209.67 1302.67L217.5 1302.67L225.5 1304.33L233.5 1306L241.33 1302.83L249.33 1301.67L257.17 1303L265.17 1303.33L273.17 1304.17L281 1303.67L289 1299.17L296.83 1298.83L304.83 1297.83L312.83 1296.17L320.67 1294.67L328.67 1295L336.67 1292.5L344.5 1287.17L352.5 1280.83L360.33 1273.67L368.33 1266.67L376.33 1261.33L384.17 1258.33L392.17 1249.17L400.17 1244.17L408 1237.17L416 1227.5L423.83 1221.67L431.83 1221.33L439.83 1220.83L447.67 1220.83L455.67 1220L463.5 1223.83L471.5 1229.67L479.5 1236.33L487.17 1241.67L495 1243.67L503 1250L511 1257.5L518.83 1265L526.83 1274.17L534.67 1282.5L542.67 1286.33L550.67 1289.17L558.5 1295.5L566.5 1302.5L574.33 1309.17L582.33 1315L590.33 1317.83L598.17 1319.17L606.17 1318.83L614.17 1321.67L622 1325L630 1328.33L638 1330.83L645.83 1337.17L653.83 1340.33L661.67 1341L669.67 1348.83L677.67 1352.17L685.5 1350.5L693.5 1350.83L701.5 1347.83L709.33 1347.83L717.33 1348.33L725.17 1342L733.17 1344.17L740.83 1351.67" fill="none" stroke="#377EB8" stroke-width="4.35" stroke-linejoin="round" stroke-linecap="butt"/>
<path d="M202.33 1360.83L209.67 1360.33L217.5 1360L225.5 1359.67L233.5 1359L241.33 1356.67L249.33 1355.33L257.17 1355L265.17 1354.67L273.17 1354.67L281 1354.33L289 1352.5L296.83 1352L304.83 1351.33L312.83 1350.5L320.67 1349.67L328.67 1349.67L336.67 1349L344.5 1347.33L352.5 1345.33L360.33 1342.83L368.33 1340.67L376.33 1338.67L384.17 1337.5L392.17 1334.67L400.17 1332.5L408 1330.33L416 1326.67L423.83 1323.33L431.83 1322.83L439.83 1322.67L447.67 1321.17L455.67 1319.5L463.5 1319L471.5 1320L479.5 1321.67L487.17 1322.67L495 1322.5L503 1323.67L511 1325.33L518.83 1327.5L526.83 1330.33L534.67 1333L542.67 1334.67L550.67 1336.17L558.5 1338.33L566.5 1341.67L574.33 1345L582.33 1348L590.33 1350L598.17 1350.83L606.17 1350.5L614.17 1351.67L622 1352.5L630 1353.67L638 1354L645.83 1356.67L653.83 1358.67L661.67 1359.17L669.67 1363.67L677.67 1365.33L685.5 1364.17L693.5 1363.33L701.5 1361.17L709.33 1361.17L717.33 1361.17L725.17 1357L733.17 1358.33L740.83 1362.5" fill="none" stroke="#E41A1C" stroke-width="4.35" stroke-linejoin="round" stroke-linecap="butt"/>
<g transform="translate(799 1211.35)">
<use href="#pg"/>
<rect x="531.3" y="0" width="43.6" height="178.15" fill="#D3D3D3"/>
<text transform="translate(301.52 -22.25) scale(1 1.015)" font-size="35.5" fill="#1A1A1A" text-anchor="middle">Sachsen-Anhalt</text>
<use href="#xl" y="186.6"/>
</g>
<path d="M826.33 1286.67L834.33 1286.83L842.17 1286.67L850.17 1285.83L858.17 1283.33L866 1279.17L874 1274.5L881.83 1269.67L889.83 1270.5L897.83 1268.83L905.67 1269.33L913.67 1271.33L921.5 1274.17L929.5 1276.33L937.5 1279.17L945.33 1277.83L953.33 1275.83L961.17 1273L969.17 1271.17L977.17 1268.5L985 1267L993 1265L1000.83 1260.83L1008.83 1260.33L1016.67 1257.5L1024.67 1255L1032.67 1252.83L1040.5 1249.5L1048.5 1249.17L1056.5 1251.67L1064.33 1252.33L1072.33 1249.67L1080.33 1246.17L1088.17 1245.83L1096.17 1247.5L1104 1247.5L1111.83 1250.33L1119.67 1251.67L1127.67 1254.17L1135.67 1260.83L1143.5 1267.83L1151.5 1276.67L1159.33 1284.17L1167.33 1287.17L1175.33 1290L1183.17 1297L1191.17 1303L1199.17 1309.17L1207 1313.83L1215 1318L1222.83 1320.83L1230.83 1321.67L1238.83 1321.33L1246.67 1325L1254.67 1327.17L1262.67 1328.33L1270.5 1334.67L1278.5 1336.67L1286.33 1339.17L1294.33 1348L1302.33 1346.17L1310.17 1344.17L1318.17 1342.83L1326 1337.5L1334 1337L1342 1336.33L1349.83 1330L1357.83 1335L1365.83 1342.5" fill="none" stroke="#377EB8" stroke-width="4.35" stroke-linejoin="round" stroke-linecap="butt"/>
<path d="M826.33 1354.33L834.33 1353.33L842.17 1352.83L850.17 1352L858.17 1350L866 1347.5L874 1344.67L881.83 1341.17L889.83 1340.83L897.83 1340.17L905.67 1339.33L913.67 1340L921.5 1341.17L929.5 1341.17L937.5 1343.33L945.33 1342.83L953.33 1342.17L961.17 1340.5L969.17 1339.33L977.17 1337.17L985 1336.33L993 1335.83L1000.83 1334L1008.83 1333.33L1016.67 1332.5L1024.67 1330L1032.67 1328.67L1040.5 1326.33L1048.5 1325.33L1056.5 1326.17L1064.33 1326.33L1072.33 1323.67L1080.33 1321.17L1088.17 1320.17L1096.17 1319.5L1104 1319.33L1111.83 1320L1119.67 1320.17L1127.67 1320.33L1135.67 1323.33L1143.5 1324.67L1151.5 1328.83L1159.33 1331.67L1167.33 1332.83L1175.33 1334.67L1183.17 1338.67L1191.17 1341.67L1199.17 1345.5L1207 1347.17L1215 1349.67L1222.83 1351.17L1230.83 1351.17L1238.83 1350.5L1246.67 1351.67L1254.67 1352L1262.67 1352.5L1270.5 1355.83L1278.5 1357.17L1286.33 1358.83L1294.33 1364.17L1302.33 1363L1310.17 1362.5L1318.17 1362.17L1326 1358.83L1334 1358.33L1342 1357.67L1349.83 1353.83L1357.83 1355.83L1365.83 1360" fill="none" stroke="#E41A1C" stroke-width="4.35" stroke-linejoin="round" stroke-linecap="butt"/>
<g transform="translate(1423.6 1211.35)">
<use href="#pg"/>
<rect x="530.9" y="0" width="43.4" height="178.15" fill="#D3D3D3"/>
<text transform="translate(301.52 -22.25) scale(1 1.015)" font-size="35.5" fill="#1A1A1A" text-anchor="middle">Schleswig-Holstein</text>
<use href="#xl" y="186.6"/>
</g>
<path d="M1451.33 1339.67L1458.83 1338.83L1466.67 1339.17L1474.67 1338L1482.67 1335.5L1490.5 1333.83L1498.5 1332.17L1506.33 1331.33L1514.33 1333.33L1522.33 1334.67L1530.17 1331.17L1538.17 1329.67L1546 1327.83L1554 1327.5L1562 1325.83L1569.83 1325.83L1577.83 1326.17L1585.83 1323L1593.67 1321.33L1601.67 1318L1609.5 1313.33L1617.5 1308.67L1625.5 1303.83L1633.33 1300L1641.33 1299.5L1649.33 1293.83L1657.17 1289.67L1665.17 1285.83L1673 1283.83L1681 1283L1689 1281.67L1696.83 1280.83L1704.83 1278.33L1712.67 1278.83L1720.67 1279.33L1728.67 1280.5L1736.33 1281.33L1744.17 1283.83L1752.17 1283.33L1760.17 1286.17L1768 1285.5L1776 1288.67L1783.83 1292L1791.83 1295.5L1799.83 1296.17L1807.67 1298.83L1815.67 1303L1823.5 1309.17L1831.5 1311.67L1839.5 1312.5L1847.33 1311.67L1855.33 1312.83L1863.17 1311.17L1871.17 1312.17L1879.17 1312.5L1887 1310.83L1895 1318.33L1902.83 1322.5L1910.83 1322.5L1918.83 1335L1926.67 1328.83L1934.67 1322.5L1942.67 1320.5L1950.5 1312.5L1958.5 1310.5L1966.33 1311.67L1974.33 1298.83L1982.33 1306.67L1990.17 1318.33" fill="none" stroke="#377EB8" stroke-width="4.35" stroke-linejoin="round" stroke-linecap="butt"/>
<path d="M1451.33 1372.33L1458.83 1372.17L1466.67 1372.33L1474.67 1372.33L1482.67 1371.33L1490.5 1370.33L1498.5 1369L1506.33 1368L1514.33 1368.67L1522.33 1369.17L1530.17 1367.5L1538.17 1366.67L1546 1366L1554 1366.33L1562 1365.83L1569.83 1366L1577.83 1365.83L1585.83 1364.17L1593.67 1362.83L1601.67 1361.33L1609.5 1359.67L1617.5 1358L1625.5 1356.17L1633.33 1355.17L1641.33 1355L1649.33 1352.83L1657.17 1350.83L1665.17 1348.33L1673 1347.17L1681 1346.17L1689 1345L1696.83 1343L1704.83 1340.83L1712.67 1340.33L1720.67 1339.83L1728.67 1339.5L1736.33 1339.5L1744.17 1340.83L1752.17 1341.17L1760.17 1342.17L1768 1340.5L1776 1340.83L1783.83 1342.17L1791.83 1343.67L1799.83 1344L1807.67 1345L1815.67 1347.17L1823.5 1350L1831.5 1351.33L1839.5 1351.67L1847.33 1351.17L1855.33 1351.67L1863.17 1350.5L1871.17 1350.83L1879.17 1350.5L1887 1348.83L1895 1353.33L1902.83 1355.83L1910.83 1355.83L1918.83 1362.17L1926.67 1359.67L1934.67 1357L1942.67 1356.67L1950.5 1352.17L1958.5 1351.33L1966.33 1351.67L1974.33 1345L1982.33 1348.33L1990.17 1353.83" fill="none" stroke="#E41A1C" stroke-width="4.35" stroke-linejoin="round" stroke-linecap="butt"/>
<g transform="translate(174.4 1490.9)">
<use href="#pg"/>
<rect x="531.8" y="0" width="42.7" height="178.15" fill="#D3D3D3"/>
<text transform="translate(301.52 -22.25) scale(1 1.015)" font-size="35.5" fill="#1A1A1A" text-anchor="middle">Thüringen</text>
<use href="#yl"/>
<use href="#xl" y="186.6"/>
</g>
<path d="M202.33 1598.33L209.67 1597.5L217.5 1596.5L225.5 1594.67L233.5 1592L241.33 1589.67L249.33 1588L257.17 1585.33L265.17 1583L273.17 1583.33L281 1582.67L289 1582.67L296.83 1582.17L304.83 1579.17L312.83 1576.33L320.67 1574.17L328.67 1572.17L336.67 1566.17L344.5 1560.83L352.5 1552.17L360.33 1546.67L368.33 1540.83L376.33 1539.17L384.17 1536.67L392.17 1532.83L400.17 1529.67L408 1527L416 1525L423.83 1524.17L431.83 1525L439.83 1522L447.67 1519.5L455.67 1516.17L463.5 1518L471.5 1519.5L479.5 1521.33L487.17 1522L495 1525.83L503 1530L511 1536.33L518.83 1539.17L526.83 1539L534.67 1540L542.67 1542.83L550.67 1545.33L558.5 1545L566.5 1548.67L574.33 1553L582.33 1560.83L590.33 1568.83L598.17 1573L606.17 1575.83L614.17 1580.33L622 1586.67L630 1593.33L638 1600.83L645.83 1609.67L653.83 1612.83L661.67 1614.5L669.67 1626.67L677.67 1626.67L685.5 1630L693.5 1629.67L701.5 1626.33L709.33 1627.83L717.33 1627.83L725.17 1622.17L733.17 1628.67L740.83 1633.33" fill="none" stroke="#377EB8" stroke-width="4.35" stroke-linejoin="round" stroke-linecap="butt"/>
<path d="M202.33 1646.17L209.67 1645.83L217.5 1645.33L225.5 1644.17L233.5 1642.83L241.33 1641.17L249.33 1639.67L257.17 1637.5L265.17 1636L273.17 1635.5L281 1634.83L289 1634.5L296.83 1634.33L304.83 1633L312.83 1631.67L320.67 1630.83L328.67 1629.67L336.67 1627.83L344.5 1625.33L352.5 1622L360.33 1620L368.33 1618.67L376.33 1618.67L384.17 1617.67L392.17 1615L400.17 1613L408 1609.33L416 1607L423.83 1604.67L431.83 1603.67L439.83 1602L447.67 1599.67L455.67 1597L463.5 1596.33L471.5 1595L479.5 1595.83L487.17 1596.33L495 1597.17L503 1599.17L511 1601.67L518.83 1604.17L526.83 1605L534.67 1605L542.67 1606.67L550.67 1608L558.5 1608.67L566.5 1611.17L574.33 1613.67L582.33 1617.5L590.33 1622L598.17 1623.67L606.17 1625.33L614.17 1626.33L622 1629.17L630 1631.67L638 1635L645.83 1638.33L653.83 1639.67L661.67 1640.5L669.67 1646.67L677.67 1645.83L685.5 1646.67L693.5 1646L701.5 1644.17L709.33 1645.33L717.33 1645.33L725.17 1641.67L733.17 1644.67L740.83 1647.17" fill="none" stroke="#E41A1C" stroke-width="4.35" stroke-linejoin="round" stroke-linecap="butt"/>
<text transform="translate(54.7 884.3) rotate(-90) scale(1 1.02)" font-size="44.4" text-anchor="middle" fill="#000">Inzidenz</text>
<text transform="translate(791.3 1925.3) scale(1 1.015)" font-size="44.4" fill="#000" letter-spacing="-0.2">Altersgruppen</text>
<path d="M1094.2 1909.8H1150.8" stroke="#E41A1C" stroke-width="4.4"/>
<text transform="translate(1179.3 1923) scale(1 1.02)" font-size="35.5" fill="#000" letter-spacing="0.2">60+</text>
<path d="M1268.8 1909.8H1325" stroke="#377EB8" stroke-width="4.4"/>
<text transform="translate(1354.8 1923) scale(1 1.01)" font-size="35.5" fill="#000" letter-spacing="-0.1">alle</text>
<text transform="translate(174 2015.4) scale(1 1.02)" font-size="35.5" fill="#000" letter-spacing="-0.145">Quelle: Robert Koch-Institut (RKI), dl-de/by-2-0, Berechnungen: Science Media Center Germany</text>
</svg>
</body></html>
